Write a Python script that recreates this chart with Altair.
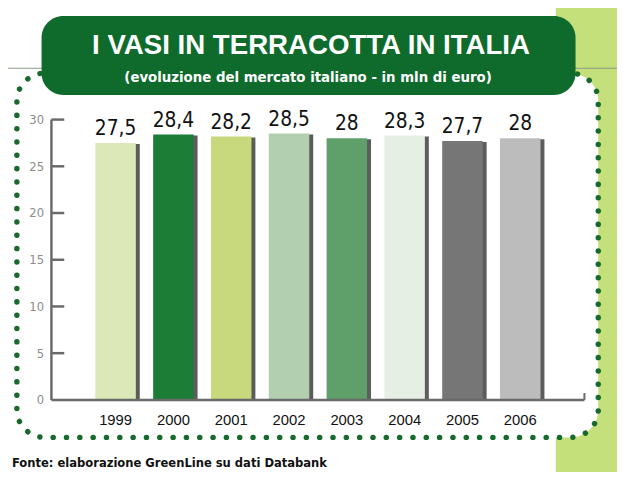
import altair as alt
import pandas as pd

years = ["1999", "2000", "2001", "2002", "2003", "2004", "2005", "2006"]
values = [27.5, 28.4, 28.2, 28.5, 28.0, 28.3, 27.7, 28.0]
labels = ["27,5", "28,4", "28,2", "28,5", "28", "28,3", "27,7", "28"]
bar_colors = ["#dde8b8", "#1b7d36", "#c7d97c", "#b2cfb0", "#5f9f69",
              "#e6efe4", "#767676", "#bcbcbc"]
y_ticks = [5, 10, 15, 20, 25, 30]
y_axis_values = [0, 5, 10, 15, 20, 25, 30]

title_text = "I VASI IN TERRACOTTA IN ITALIA"
subtitle_text = "(evoluzione del mercato italiano - in mln di euro)"
source_text = "Fonte: elaborazione GreenLine su dati Databank"

df = pd.DataFrame({"year": years, "value": values, "label": labels})
ticks_df = pd.DataFrame({"t": y_ticks})
one = pd.DataFrame({"a": [0]})

W, H = 540, 284
NARROW = "DejaVu Sans Condensed"
AXIS_GREY = "#6a6a6a"

xscale = alt.Scale(domain=years, paddingInner=0.3, paddingOuter=0.76)
yscale = alt.Scale(domain=[0, 30], nice=False)
cscale = alt.Scale(domain=years, range=bar_colors)

xaxis = alt.Axis(title=None, labelAngle=0, ticks=False, domain=False, zindex=2,
                 labelColor="#111111", labelFont="Liberation Sans",
                 labelFontSize=15, labelPadding=13)
yaxis = alt.Axis(title=None, values=y_axis_values, ticks=False, grid=False,
                 zindex=2, domain=False,
                 labelColor="#8c8c8c", labelFont=NARROW,
                 labelFontSize=13, labelPadding=8)

# --- decorations (pixel positions relative to plot origin) ---
band = alt.Chart(one).mark_rect(color="#c3e07b").encode(
    x=alt.value(511), x2=alt.value(580), y=alt.value(-130), y2=alt.value(370))
hline = alt.Chart(one).mark_rule(color="#8d9a86", strokeWidth=1.2).encode(
    x=alt.value(-60), x2=alt.value(580), y=alt.value(-52))
panel = alt.Chart(one).mark_rect(
    fill="white", stroke="#17692c", strokeWidth=5.5, strokeDash=[0.1, 13.4],
    strokeCap="round", cornerRadius=28).encode(
    x=alt.value(-35), x2=alt.value(554), y=alt.value(-47), y2=alt.value(322))
tbox = alt.Chart(one).mark_rect(fill="#0e6b2b", cornerRadius=22).encode(
    x=alt.value(-10), x2=alt.value(531), y=alt.value(-105), y2=alt.value(-25))
ttext = alt.Chart(one).mark_text(
    text=title_text, color="white", font="Liberation Sans", fontWeight="bold",
    fontSize=28, align="center", baseline="alphabetic").encode(
    x=alt.value(263), y=alt.value(-66))
stext = alt.Chart(one).mark_text(
    text=subtitle_text, color="white", font=NARROW, fontWeight="bold",
    fontSize=15, align="center", baseline="alphabetic").encode(
    x=alt.value(260), y=alt.value(-38))
src = alt.Chart(one).mark_text(
    text=source_text, color="#111111", font=NARROW, fontWeight="bold",
    fontSize=13, align="left", baseline="alphabetic").encode(
    x=alt.value(-40), y=alt.value(352))

# --- data marks ---
base = alt.Chart(df)
shadow = base.mark_bar(color="#333333", opacity=0.8, xOffset=4, yOffset=1).encode(
    x=alt.X("year:N", scale=xscale, sort=years, axis=xaxis),
    y=alt.Y("value:Q", scale=yscale, axis=yaxis))
bars = base.mark_bar().encode(
    x=alt.X("year:N", scale=xscale, sort=years, axis=xaxis),
    y=alt.Y("value:Q", scale=yscale, axis=yaxis),
    color=alt.Color("year:N", scale=cscale, legend=None))
vlabels = base.mark_text(
    font=NARROW, fontSize=21, color="#111111", baseline="alphabetic",
    dy=-8, align="center").encode(
    x=alt.X("year:N", scale=xscale, sort=years, axis=xaxis),
    y=alt.Y("value:Q", scale=yscale, axis=yaxis),
    text="label:N")
# axis lines and inward ticks
ydom = alt.Chart(one).mark_rule(color=AXIS_GREY, strokeWidth=2.5).encode(
    x=alt.value(0), y=alt.value(0), y2=alt.value(H))
xdom = alt.Chart(one).mark_rule(color=AXIS_GREY, strokeWidth=2.5).encode(
    x=alt.value(0), x2=alt.value(W), y=alt.value(H))
yt = alt.Chart(ticks_df).mark_tick(
    color=AXIS_GREY, orient="horizontal", size=13, thickness=2.5, opacity=1).encode(
    x=alt.value(6.5), y=alt.Y("t:Q", scale=yscale, axis=yaxis))
endtick = alt.Chart(one).mark_rule(color=AXIS_GREY, strokeWidth=2).encode(
    x=alt.value(W), y=alt.value(H - 7), y2=alt.value(H))

chart = alt.layer(
    band, hline, panel, tbox, ttext, stext, src,
    shadow, bars, vlabels, ydom, xdom, yt, endtick
).properties(
    width=W, height=H,
    autosize=alt.AutoSizeParams(type="none"),
    padding={"left": 44, "top": 110, "right": 33, "bottom": 70},
).configure_view(strokeWidth=0).configure(background="white")

chart.save("out.html", embed_options={"renderer": "svg", "actions": False})
